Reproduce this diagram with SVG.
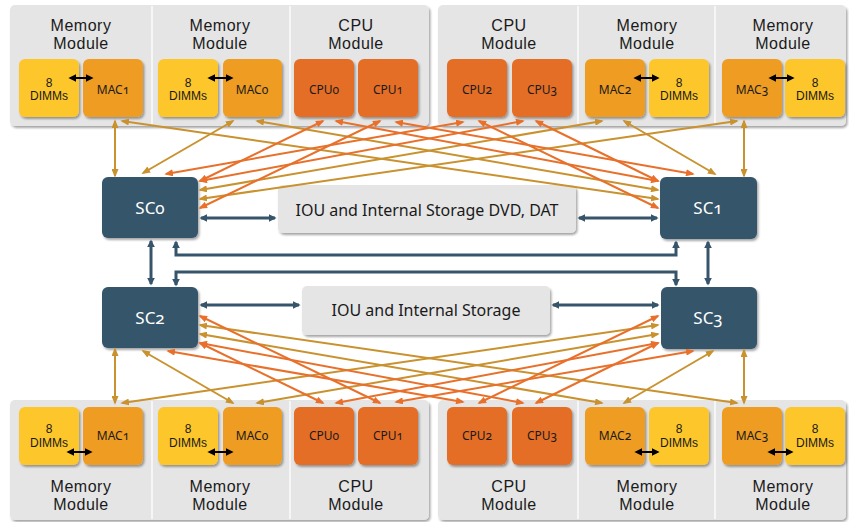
<svg xmlns="http://www.w3.org/2000/svg" width="849" height="522" viewBox="0 0 849 522">
<defs>
<filter id="sh" x="-10%" y="-10%" width="125%" height="130%"><feDropShadow dx="1.5" dy="2" stdDeviation="1.2" flood-color="#000" flood-opacity="0.35"/></filter>
<marker id="ag" viewBox="0 0 10 8" refX="8" refY="4" markerWidth="9" markerHeight="7" markerUnits="userSpaceOnUse" orient="auto-start-reverse"><path d="M0,0L10,4L0,8z" fill="#c9922f"/></marker>
<marker id="ao" viewBox="0 0 10 8" refX="8" refY="4" markerWidth="9" markerHeight="7" markerUnits="userSpaceOnUse" orient="auto-start-reverse"><path d="M0,0L10,4L0,8z" fill="#e8702a"/></marker>
<marker id="ab" viewBox="0 0 10 10" refX="8" refY="5" markerWidth="8" markerHeight="8" markerUnits="userSpaceOnUse" orient="auto-start-reverse"><path d="M0,0L10,5L0,10z" fill="#36546a"/></marker>
<marker id="ak" viewBox="0 0 10 10" refX="8" refY="5" markerWidth="8" markerHeight="9" markerUnits="userSpaceOnUse" orient="auto-start-reverse"><path d="M0,0L10,5L0,10z" fill="#000"/></marker>
</defs>
<style>
.panel{fill:#e5e5e5;filter:url(#sh)}
.dv{stroke:#f6f6f6;stroke-width:2}
.dimm{fill:#fdc62b;filter:url(#sh)}
.mac{fill:#ee9c22;filter:url(#sh)}
.cpu{fill:#e56e26;filter:url(#sh)}
.sc{fill:#36546a;filter:url(#sh)}
.iou{fill:#e5e5e5;filter:url(#sh)}
text{font-family:"Noto Sans","Open Sans","Liberation Sans",sans-serif;text-anchor:middle;fill:#1a1a1a}
.lbl{font-family:"Liberation Sans",Arial,sans-serif;font-size:16px;letter-spacing:0.5px}
.sm{font-size:12px}
.dm{font-family:"Liberation Sans",Arial,sans-serif;font-size:12px}
.num{font-variant-numeric:oldstyle-nums}
.sct{font-size:17px;fill:#fff}
.iout{font-size:16px}
.g{stroke:#c9922f;stroke-width:2;fill:none;marker-start:url(#ag);marker-end:url(#ag)}
.o{stroke:#e8702a;stroke-width:2;fill:none;marker-start:url(#ao);marker-end:url(#ao)}
.b{stroke:#36546a;stroke-width:3;fill:none;marker-start:url(#ab);marker-end:url(#ab)}
.k{stroke:#000;stroke-width:2;fill:none;marker-start:url(#ak);marker-end:url(#ak)}
</style>
<rect width="849" height="522" fill="#fff"/>

<g id="panels">
<rect class="panel" x="10" y="5" width="419" height="121" rx="5"/>
<rect class="panel" x="438" y="5" width="408" height="121" rx="5"/>
<line class="dv" x1="152" y1="6" x2="152" y2="125"/>
<line class="dv" x1="290" y1="6" x2="290" y2="125"/>
<line class="dv" x1="578" y1="6" x2="578" y2="125"/>
<line class="dv" x1="715" y1="6" x2="715" y2="125"/>
<rect class="panel" x="10" y="400" width="419" height="120" rx="5"/>
<rect class="panel" x="438" y="400" width="408" height="120" rx="5"/>
<line class="dv" x1="152" y1="401" x2="152" y2="519"/>
<line class="dv" x1="290" y1="401" x2="290" y2="519"/>
<line class="dv" x1="578" y1="401" x2="578" y2="519"/>
<line class="dv" x1="715" y1="401" x2="715" y2="519"/>
</g>

<g id="labels">
<text class="lbl"><tspan x="81" y="31">Memory</tspan><tspan x="81" y="49">Module</tspan></text>
<text class="lbl"><tspan x="220" y="31">Memory</tspan><tspan x="220" y="49">Module</tspan></text>
<text class="lbl"><tspan x="356" y="31">CPU</tspan><tspan x="356" y="49">Module</tspan></text>
<text class="lbl"><tspan x="509" y="31">CPU</tspan><tspan x="509" y="49">Module</tspan></text>
<text class="lbl"><tspan x="647" y="31">Memory</tspan><tspan x="647" y="49">Module</tspan></text>
<text class="lbl"><tspan x="783" y="31">Memory</tspan><tspan x="783" y="49">Module</tspan></text>
<text class="lbl"><tspan x="81" y="492">Memory</tspan><tspan x="81" y="510">Module</tspan></text>
<text class="lbl"><tspan x="220" y="492">Memory</tspan><tspan x="220" y="510">Module</tspan></text>
<text class="lbl"><tspan x="356" y="492">CPU</tspan><tspan x="356" y="510">Module</tspan></text>
<text class="lbl"><tspan x="509" y="492">CPU</tspan><tspan x="509" y="510">Module</tspan></text>
<text class="lbl"><tspan x="647" y="492">Memory</tspan><tspan x="647" y="510">Module</tspan></text>
<text class="lbl"><tspan x="783" y="492">Memory</tspan><tspan x="783" y="510">Module</tspan></text>
</g>

<!-- top modules -->
<g id="dimm-t1"><rect class="dimm" x="19" y="59" width="60" height="58" rx="6"/><text class="dm"><tspan x="49" y="86.5">8</tspan><tspan x="49" y="100">DIMMs</tspan></text></g>
<g id="mac1-t"><rect class="mac" x="83" y="59" width="60" height="58" rx="6"/><text class="sm num" x="113" y="94">MAC1</text></g>
<g id="dimm-t0"><rect class="dimm" x="158" y="59" width="60" height="58" rx="6"/><text class="dm"><tspan x="188" y="86.5">8</tspan><tspan x="188" y="100">DIMMs</tspan></text></g>
<g id="mac0-t"><rect class="mac" x="223" y="59" width="59" height="58" rx="6"/><text class="sm num" x="252" y="94">MAC0</text></g>
<g id="cpu0-t"><rect class="cpu" x="294" y="59" width="60" height="58" rx="6"/><text class="sm num" x="324" y="94">CPU0</text></g>
<g id="cpu1-t"><rect class="cpu" x="358" y="59" width="60" height="58" rx="6"/><text class="sm num" x="388" y="94">CPU1</text></g>
<g id="cpu2-t"><rect class="cpu" x="447" y="59" width="60" height="58" rx="6"/><text class="sm num" x="477" y="94">CPU2</text></g>
<g id="cpu3-t"><rect class="cpu" x="512" y="59" width="60" height="58" rx="6"/><text class="sm num" x="542" y="94">CPU3</text></g>
<g id="mac2-t"><rect class="mac" x="585" y="59" width="60" height="58" rx="6"/><text class="sm num" x="615" y="94">MAC2</text></g>
<g id="dimm-t2"><rect class="dimm" x="649" y="59" width="60" height="58" rx="6"/><text class="dm"><tspan x="679" y="86.5">8</tspan><tspan x="679" y="100">DIMMs</tspan></text></g>
<g id="mac3-t"><rect class="mac" x="722" y="59" width="60" height="58" rx="6"/><text class="sm num" x="752" y="94">MAC3</text></g>
<g id="dimm-t3"><rect class="dimm" x="785" y="59" width="60" height="58" rx="6"/><text class="dm"><tspan x="815" y="86.5">8</tspan><tspan x="815" y="100">DIMMs</tspan></text></g>

<!-- bottom modules -->
<g id="dimm-b1"><rect class="dimm" x="19" y="407" width="60" height="58" rx="6"/><text class="dm"><tspan x="49" y="433">8</tspan><tspan x="49" y="447">DIMMs</tspan></text></g>
<g id="mac1-b"><rect class="mac" x="83" y="407" width="60" height="58" rx="6"/><text class="sm num" x="113" y="440">MAC1</text></g>
<g id="dimm-b0"><rect class="dimm" x="158" y="407" width="60" height="58" rx="6"/><text class="dm"><tspan x="188" y="433">8</tspan><tspan x="188" y="447">DIMMs</tspan></text></g>
<g id="mac0-b"><rect class="mac" x="223" y="407" width="59" height="58" rx="6"/><text class="sm num" x="252" y="440">MAC0</text></g>
<g id="cpu0-b"><rect class="cpu" x="294" y="407" width="60" height="58" rx="6"/><text class="sm num" x="324" y="440">CPU0</text></g>
<g id="cpu1-b"><rect class="cpu" x="358" y="407" width="60" height="58" rx="6"/><text class="sm num" x="388" y="440">CPU1</text></g>
<g id="cpu2-b"><rect class="cpu" x="447" y="407" width="60" height="58" rx="6"/><text class="sm num" x="477" y="440">CPU2</text></g>
<g id="cpu3-b"><rect class="cpu" x="512" y="407" width="60" height="58" rx="6"/><text class="sm num" x="542" y="440">CPU3</text></g>
<g id="mac2-b"><rect class="mac" x="585" y="407" width="60" height="58" rx="6"/><text class="sm num" x="615" y="440">MAC2</text></g>
<g id="dimm-b2"><rect class="dimm" x="649" y="407" width="60" height="58" rx="6"/><text class="dm"><tspan x="679" y="433">8</tspan><tspan x="679" y="447">DIMMs</tspan></text></g>
<g id="mac3-b"><rect class="mac" x="722" y="407" width="60" height="58" rx="6"/><text class="sm num" x="752" y="440">MAC3</text></g>
<g id="dimm-b3"><rect class="dimm" x="785" y="407" width="60" height="58" rx="6"/><text class="dm"><tspan x="815" y="433">8</tspan><tspan x="815" y="447">DIMMs</tspan></text></g>

<!-- system controllers -->
<g id="sc0"><rect class="sc" x="102" y="177" width="96" height="61" rx="6"/><text class="sct num" x="150" y="214">SC0</text></g>
<g id="sc1"><rect class="sc" x="660" y="177" width="97" height="62" rx="6"/><text class="sct num" x="708" y="214">SC1</text></g>
<g id="sc2"><rect class="sc" x="102" y="287" width="96" height="61" rx="6"/><text class="sct num" x="150" y="324">SC2</text></g>
<g id="sc3"><rect class="sc" x="661" y="287" width="96" height="62" rx="6"/><text class="sct num" x="708" y="324">SC3</text></g>

<g id="iou1"><rect class="iou" x="278" y="185" width="298" height="48" rx="5"/><text class="iout" x="427" y="216">IOU and Internal Storage DVD, DAT</text></g>
<g id="iou2"><rect class="iou" x="302" y="286" width="248" height="49" rx="5"/><text class="iout" x="426" y="316">IOU and Internal Storage</text></g>

<g id="connectors">
<!-- DIMM-MAC -->
<path class="k" d="M70,78H92"/><path class="k" d="M209,78H232"/><path class="k" d="M635,78H658"/><path class="k" d="M770,78H793"/>
<path class="k" d="M68,452H91"/><path class="k" d="M209,452H232"/><path class="k" d="M636,452H658"/><path class="k" d="M769,452H792"/>
<!-- blue -->
<path class="b" d="M201,218H275"/>
<path class="b" d="M579,218H657"/>
<path class="b" d="M151,241V284"/>
<path class="b" d="M708,242V284"/>
<path class="b" d="M176,242V255H676V242"/>
<path class="b" d="M176,285V272H676V285"/>
<path class="b" d="M201,305H299"/>
<path class="b" d="M553,305H658"/>
<!-- top gold -->
<path class="g" d="M115,121L115,176"/>
<path class="g" d="M233,121L143,173"/>
<path class="g" d="M602,121L200,190"/>
<path class="g" d="M737,121L200,199"/>
<path class="g" d="M744,121L744,176"/>
<path class="g" d="M624,121L715,174"/>
<path class="g" d="M122,121L658,199"/>
<path class="g" d="M257,121L658,190"/>
<!-- top orange -->
<path class="o" d="M323,121L200,181"/>
<path class="o" d="M380,121L200,208"/>
<path class="o" d="M463,122L166,174"/>
<path class="o" d="M523,121L200,181"/>
<path class="o" d="M536,121L658,181"/>
<path class="o" d="M479,121L658,208"/>
<path class="o" d="M396,122L693,174"/>
<path class="o" d="M336,121L658,181"/>
<!-- bottom gold -->
<path class="g" d="M115,403L115,349"/>
<path class="g" d="M233,403L143,351"/>
<path class="g" d="M602,403L200,334"/>
<path class="g" d="M737,403L200,325"/>
<path class="g" d="M744,403L744,350"/>
<path class="g" d="M624,403L713,351"/>
<path class="g" d="M122,403L658,325"/>
<path class="g" d="M257,403L658,334"/>
<!-- bottom orange -->
<path class="o" d="M323,403L200,343"/>
<path class="o" d="M380,403L200,316"/>
<path class="o" d="M463,402L168,351"/>
<path class="o" d="M523,403L200,343"/>
<path class="o" d="M536,403L658,343"/>
<path class="o" d="M479,403L658,316"/>
<path class="o" d="M396,402L693,351"/>
<path class="o" d="M336,403L658,343"/>
</g>
</svg>
